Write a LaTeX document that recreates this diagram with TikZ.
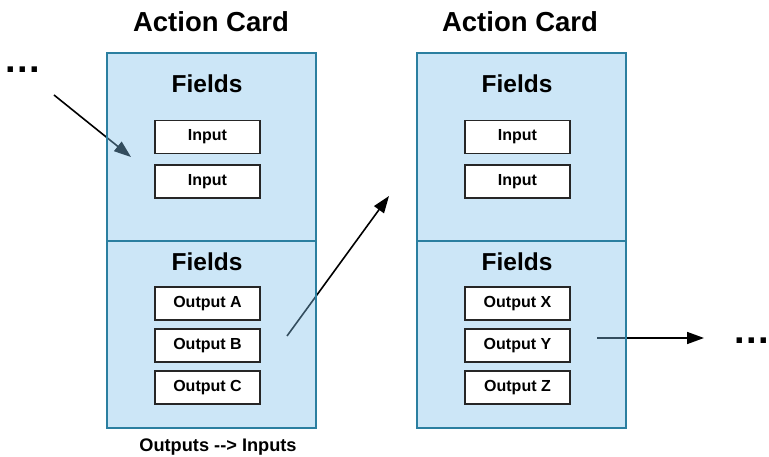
\documentclass[tikz,border=0pt]{standalone}
\usepackage{fontspec}
\setmainfont{Liberation Sans}
\usetikzlibrary{arrows.meta}
\definecolor{cardfill}{RGB}{128,193,235}
\definecolor{cardline}{RGB}{43,127,160}
\tikzset{
  half/.style={draw=cardline, line width=1.6pt, fill=cardfill, fill opacity=0.4, draw opacity=1, text opacity=1, minimum width=209pt, inner sep=0pt, anchor=north west},
  fbox/.style={draw=black!85, line width=1.8pt, fill=white, minimum width=105pt, minimum height=33pt, inner sep=0pt, font=\bfseries\fontsize{16}{18}\selectfont},
  title/.style={font=\bfseries\fontsize{27.5}{31}\selectfont},
  fields/.style={font=\bfseries\fontsize{24.5}{28}\selectfont},
  conn/.style={line width=1.6pt, -{Triangle[length=17pt,width=12pt]}},
  dots/.style={font=\bfseries\fontsize{38}{40}\selectfont, inner sep=0pt}
}
\newcommand{\mydots}{.\kern1.5pt.\kern1.5pt.}
\begin{document}
\begin{tikzpicture}[x=1pt,y=-1pt]
\useasboundingbox (0,0) rectangle (769,457);
% free ends of connectors
\coordinate (s1) at (54,95);
\coordinate (e1) at (131,157);
\coordinate (s2) at (287,336);
\coordinate (e2) at (389,196);
\coordinate (s3) at (597,338);
\coordinate (e3) at (704,338);
\draw[conn] (s1) -- (e1);
\draw[conn] (s2) -- (e2);
\draw[conn] (s3) -- (e3);
% cards
\node[half, minimum height=188pt] (c1top) at (106,52) {};
\node[half, minimum height=187pt] (c1bot) at (106,240) {};
\node[half, minimum height=188pt] (c2top) at (416,52) {};
\node[half, minimum height=187pt] (c2bot) at (416,240) {};
\node[title] (t1) at (211,22) {Action Card};
\node[title] (t2) at (520,22) {Action Card};
\node[fields] (f1) at (207,84) {Fields};
\node[fields] (f2) at (207,262) {Fields};
\node[fields] (f3) at (517,84) {Fields};
\node[fields] (f4) at (517,262) {Fields};
\node[fbox] (i1) at (207.5,137) {Input};
\node[fbox] (i2) at (207.5,181.5) {Input};
\node[fbox] (oa) at (207.5,303.5) {Output A};
\node[fbox] (ob) at (207.5,345.5) {Output B};
\node[fbox] (oc) at (207.5,387.5) {Output C};
\node[fbox] (i3) at (517.5,137) {Input};
\node[fbox] (i4) at (517.5,181.5) {Input};
\node[fbox] (ox) at (517.5,303.5) {Output X};
\node[fbox] (oy) at (517.5,345.5) {Output Y};
\node[fbox] (oz) at (517.5,387.5) {Output Z};
\node[dots, anchor=base west] (d1) at (5,73) {\mydots};
\node[dots, anchor=base east] (d2) at (769,344) {\mydots};
\node[font=\bfseries\fontsize{18.2}{21}\selectfont] (cap) at (218,447) {Outputs -{}-{}> Inputs};
\end{tikzpicture}
\end{document}
